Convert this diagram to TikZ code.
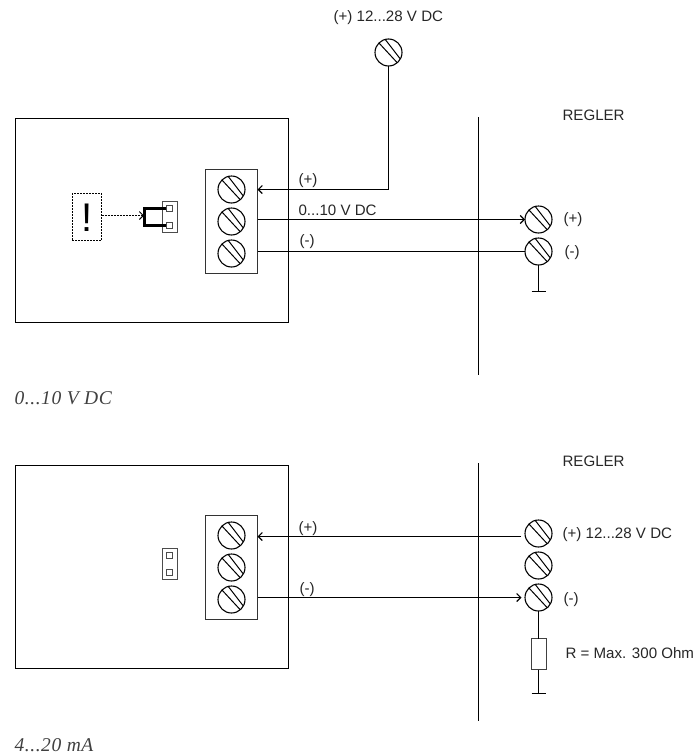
\documentclass[tikz,border=0pt]{standalone}
\usepackage{fontspec}
\usetikzlibrary{arrows.meta}
\setmainfont{Liberation Sans}
\newfontfamily\captionfont[LetterSpace=3]{Liberation Serif}
\begin{document}
\begin{tikzpicture}[x=1pt, y=-1pt, >={Straight Barb[length=4pt,width=8pt]}, line width=1.1pt,
	device/.style={shape=rectangle, draw=black, line width=1.2pt, outer sep=0pt, inner sep=0pt, minimum width=273pt, minimum height=204pt},
	block/.style={shape=rectangle, draw=black!80, line width=1.3pt, outer sep=0pt, inner sep=0pt, minimum width=52pt, minimum height=104pt},
	screw/.style={shape=circle, draw=black, outer sep=0pt, inner sep=0pt, minimum size=27pt, path picture={
		\draw[line width=1pt] ([shift={(-10,-10)}]path picture bounding box.center) -- ([shift={(9,10.5)}]path picture bounding box.center);
		\draw[line width=1pt] ([shift={(-4,-14)}]path picture bounding box.center) -- ([shift={(13,8)}]path picture bounding box.center);}},
	jumper/.style={shape=rectangle, draw=black!70, line width=0.9pt, outer sep=0pt, inner sep=0pt, minimum width=15pt, minimum height=31pt},
	pin/.style={shape=rectangle, draw=black!70, line width=0.9pt, outer sep=0pt, inner sep=0pt, minimum width=6.5pt, minimum height=6.5pt},
	resistor/.style={shape=rectangle, draw=black!75, line width=0.9pt, outer sep=0pt, inner sep=0pt, minimum width=15pt, minimum height=31pt},
	label/.style={anchor=base west, inner sep=0pt, font=\fontsize{15.1}{17}\selectfont, text=black!85},
	caption/.style={anchor=base west, inner sep=0pt, font=\captionfont\itshape\fontsize{19.5}{22}\selectfont, text=black!75}]
	\useasboundingbox (0,0) rectangle (694,755);
	%Upper circuit:
	\path
		(152,220.5) node[device] (device1) {}
		(231.5,221.5) node[block] (block1) {}
		(231.5,189.5) node[screw] (scr1a) {}
		(231.5,221.5) node[screw] (scr1b) {}
		(231.5,253.5) node[screw] (scr1c) {}
		(388.5,52.5) node[screw] (supply1) {}
		(538.5,219.5) node[screw] (ctrl1a) {}
		(538.5,251.5) node[screw] (ctrl1b) {}
		(169.5,217) node[jumper] (jumper1) {}
		(169.5,208.5) node[pin] (pin1a) {}
		(169.5,225.5) node[pin] (pin1b) {}
		(87,217) node[shape=rectangle, draw=black, dash pattern=on 2pt off 1pt, line width=0.9pt, outer sep=0pt, inner sep=0pt, minimum width=29.5pt, minimum height=46.5pt] (warn1) {}
		(87,217.5) node[inner sep=0pt, font=\fontsize{40}{40}\selectfont] (mark1) {!};
	\coordinate (wall1a) at (478.5,117);
	\coordinate (wall1b) at (478.5,375);
	\coordinate (gnd1) at (538.5,291.5);
	\coordinate (bridge1) at (144,215.5);
	\coordinate (bridge1a) at (144,208.5);
	\coordinate (bridge1b) at (144,225.5);
	\draw[line width=1pt] (wall1a) -- (wall1b);
	\draw[->] (supply1.south) |- (scr1a -| block1.east);
	\draw[->] (block1.east |- ctrl1a) -- (ctrl1a.west);
	\draw (block1.east |- ctrl1b) -- (ctrl1b.west);
	\draw (ctrl1b.south) -- (gnd1);
	\draw ([xshift=-7pt]gnd1) -- ([xshift=7pt]gnd1);
	\draw[->, dash pattern=on 2pt off 1pt, line width=0.9pt] (warn1.east |- bridge1) -- (bridge1);
	\draw[line width=3pt] (pin1a.west) -- (bridge1a) -- (bridge1b) -- (pin1b.west);
	%Lower circuit:
	\path
		(152,567) node[device, minimum height=203pt] (device2) {}
		(231.5,567.5) node[block] (block2) {}
		(231.5,535.5) node[screw] (scr2a) {}
		(231.5,567.5) node[screw] (scr2b) {}
		(231.5,599.5) node[screw] (scr2c) {}
		(538.5,533.5) node[screw] (ctrl2a) {}
		(538.5,565.5) node[screw] (ctrl2b) {}
		(538.5,597.5) node[screw] (ctrl2c) {}
		(169.5,564) node[jumper] (jumper2) {}
		(169.5,555.5) node[pin] (pin2a) {}
		(169.5,572.5) node[pin] (pin2b) {}
		(538.5,654) node[resistor] (res2) {};
	\coordinate (wall2a) at (478.5,463);
	\coordinate (wall2b) at (478.5,721);
	\coordinate (gnd2) at (538.5,693.5);
	\coordinate (end2a) at (521,536.5);
	\coordinate (end2c) at (521.5,597.5);
	\draw[line width=1pt] (wall2a) -- (wall2b);
	\draw[->] (end2a) -- (block2.east |- end2a);
	\draw[->] (block2.east |- end2c) -- (end2c);
	\draw (ctrl2c.south) -- (res2.north);
	\draw (res2.south) -- (gnd2);
	\draw ([xshift=-7pt]gnd2) -- ([xshift=7pt]gnd2);
	%Labels:
	\path
		(333,21) node[label] (supplylabel) {(+) 12...28 V DC}
		(562,120.5) node[label] (regler1) {REGLER}
		(298,184.5) node[label] (plus1) {(+)}
		(298,215.5) node[label] (signal1) {0...10 V DC}
		(299,245) node[label] (minus1) {(-)}
		(563,223.5) node[label] (ctrlplus1) {(+)}
		(564,256) node[label] (ctrlminus1) {(-)}
		(14,404) node[caption] (caption1) {0...10 V DC}
		(562,466.5) node[label] (regler2) {REGLER}
		(298,532.5) node[label] (plus2) {(+)}
		(299,593) node[label] (minus2) {(-)}
		(562,538) node[label] (ctrlplus2) {(+) 12...28 V DC}
		(563,603) node[label] (ctrlminus2) {(-)}
		(565,658) node[label] (reslabel) {R = Max. 300 Ohm}
		(14,751.5) node[caption] (caption2) {4...20 mA};
\end{tikzpicture}
\end{document}
